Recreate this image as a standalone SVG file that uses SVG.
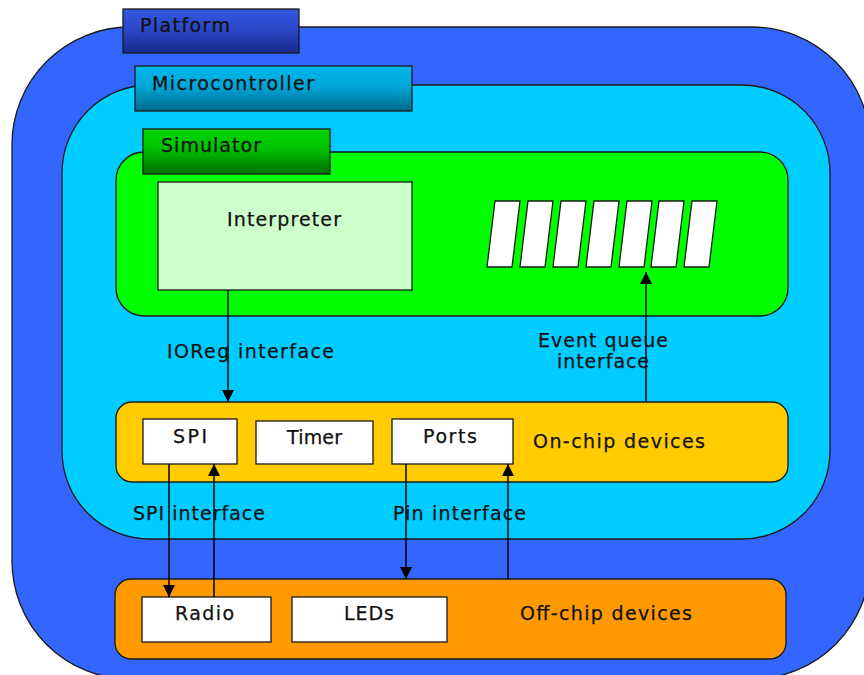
<svg xmlns="http://www.w3.org/2000/svg" width="864" height="675" viewBox="0 0 864 675">
  <defs>
    <linearGradient id="gPlatform" x1="0" y1="0" x2="0" y2="1">
      <stop offset="0" stop-color="#3358e0"/>
      <stop offset="0.45" stop-color="#2a48c8"/>
      <stop offset="1" stop-color="#17298a"/>
    </linearGradient>
    <linearGradient id="gMcu" x1="0" y1="0" x2="0" y2="1">
      <stop offset="0" stop-color="#00b8ec"/>
      <stop offset="0.45" stop-color="#00a6d8"/>
      <stop offset="1" stop-color="#006a8c"/>
    </linearGradient>
    <linearGradient id="gSim" x1="0" y1="0" x2="0" y2="1">
      <stop offset="0" stop-color="#00d800"/>
      <stop offset="0.45" stop-color="#00c000"/>
      <stop offset="1" stop-color="#007000"/>
    </linearGradient>
    <marker id="arrow" markerUnits="userSpaceOnUse" markerWidth="12" markerHeight="12" viewBox="0 0 12 12" refX="12" refY="6" orient="auto">
      <path d="M0,0 L12,6 L0,12 Z" fill="#000"/>
    </marker>
  </defs>
  <style>
    .frame { stroke: #1a1a1a; stroke-width: 1.3; }
    .box { fill: #ffffff; stroke: #1a1a1a; stroke-width: 1.3; }
    .tab { stroke: #1a1a1a; stroke-width: 1.3; }
    text { font-family: "DejaVu Sans", "Noto Sans", sans-serif; font-size: 19px; fill: #111111; stroke: #111111; stroke-width: 0.25; }
    .conn { stroke: #000; stroke-width: 1.5; fill: none; marker-end: url(#arrow); }
    .queue { fill: #ffffff; stroke: #1a1a1a; stroke-width: 1.3; }
  </style>

  <!-- Platform -->
  <g id="platform">
    <rect class="frame" x="12" y="27" width="858" height="652" rx="118" ry="118" fill="#3366ff"/>
    <rect class="tab" x="123" y="9" width="176" height="44" fill="url(#gPlatform)"/>
    <text x="140" y="32" textLength="90" lengthAdjust="spacing">Platform</text>
  </g>

  <!-- Microcontroller -->
  <g id="microcontroller">
    <rect class="frame" x="62" y="85" width="768" height="454" rx="88" ry="88" fill="#00ccff"/>
    <rect class="tab" x="135" y="66" width="277" height="45" fill="url(#gMcu)"/>
    <text x="152" y="90" textLength="162" lengthAdjust="spacing">Microcontroller</text>
  </g>

  <!-- Simulator -->
  <g id="simulator">
    <rect class="frame" x="116" y="152" width="672" height="164" rx="28" ry="28" fill="#00ff00"/>
    <rect class="tab" x="143" y="129" width="187" height="45" fill="url(#gSim)"/>
    <text x="161" y="152" textLength="100" lengthAdjust="spacing">Simulator</text>
  </g>

  <!-- Interpreter -->
  <g id="interpreter">
    <rect x="158" y="182" width="254" height="108" fill="#ccffcc" stroke="#1a1a1a" stroke-width="1.3"/>
    <text x="227" y="226" textLength="114" lengthAdjust="spacing">Interpreter</text>
  </g>

  <!-- Event queue slots -->
  <g id="event-queue">
    <polygon class="queue" points="495,201 520,201 512,267 487,267"/>
    <polygon class="queue" points="528,201 553,201 545,267 520,267"/>
    <polygon class="queue" points="561,201 586,201 578,267 553,267"/>
    <polygon class="queue" points="594,201 619,201 611,267 586,267"/>
    <polygon class="queue" points="627,201 652,201 644,267 619,267"/>
    <polygon class="queue" points="659,201 684,201 676,267 651,267"/>
    <polygon class="queue" points="692,201 717,201 709,267 684,267"/>
  </g>

  <!-- On-chip devices -->
  <g id="on-chip">
    <rect class="frame" x="116" y="402" width="672" height="80" rx="16" ry="16" fill="#ffcc00"/>
    <text x="533" y="448" textLength="172" lengthAdjust="spacing">On-chip devices</text>
  </g>
  <g id="spi">
    <rect class="box" x="143" y="419" width="94" height="45"/>
    <text x="173" y="443" textLength="34" lengthAdjust="spacing">SPI</text>
  </g>
  <g id="timer">
    <rect class="box" x="256" y="421" width="117" height="43"/>
    <text x="287" y="444" textLength="55" lengthAdjust="spacing">Timer</text>
  </g>
  <g id="ports">
    <rect class="box" x="392" y="419" width="121" height="45"/>
    <text x="423" y="443" textLength="54" lengthAdjust="spacing">Ports</text>
  </g>

  <!-- Off-chip devices -->
  <g id="off-chip">
    <rect class="frame" x="115" y="579" width="671" height="80" rx="16" ry="16" fill="#ff9900"/>
    <text x="520" y="620" textLength="172" lengthAdjust="spacing">Off-chip devices</text>
  </g>
  <g id="radio">
    <rect class="box" x="142" y="597" width="129" height="45"/>
    <text x="175" y="620" textLength="59" lengthAdjust="spacing">Radio</text>
  </g>
  <g id="leds">
    <rect class="box" x="292" y="597" width="155" height="45"/>
    <text x="344" y="620" textLength="50" lengthAdjust="spacing">LEDs</text>
  </g>

  <!-- Connectors -->
  <g id="connectors">
    <line class="conn" x1="228" y1="290" x2="228" y2="402"/>
    <line class="conn" x1="646" y1="402" x2="646" y2="272"/>
    <line class="conn" x1="169" y1="464" x2="169" y2="597"/>
    <line class="conn" x1="214" y1="597" x2="214" y2="464"/>
    <line class="conn" x1="406" y1="464" x2="406" y2="579"/>
    <line class="conn" x1="508" y1="579" x2="508" y2="464"/>
  </g>

  <!-- Interface labels -->
  <g id="labels">
    <text x="167" y="358" textLength="167" lengthAdjust="spacing">IOReg interface</text>
    <text x="538" y="347" textLength="130" lengthAdjust="spacing">Event queue</text>
    <text x="557" y="368" textLength="92" lengthAdjust="spacing">interface</text>
    <text x="133" y="520" textLength="132" lengthAdjust="spacing">SPI interface</text>
    <text x="393" y="520" textLength="133" lengthAdjust="spacing">Pin interface</text>
  </g>
</svg>
